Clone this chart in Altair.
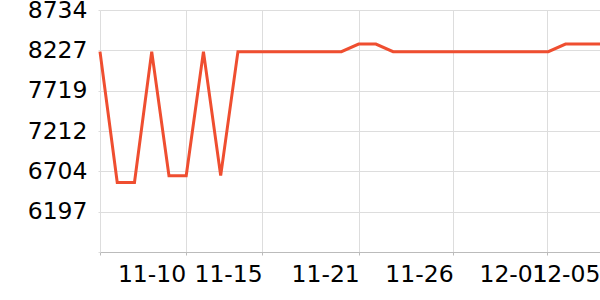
import altair as alt
import pandas as pd

# data
values = [8210, 6565, 6565, 8210, 6650, 6650, 8210, 6650, 8210, 8210,
          8210, 8210, 8210, 8210, 8210, 8306, 8306, 8210, 8210, 8210,
          8210, 8210, 8210, 8210, 8210, 8210, 8210, 8306, 8306, 8306]
idx = list(range(len(values)))

x_tick_pos = [0, 4.97, 9.41, 15.04, 20.48, 25.94, 29]
x_tick_labels = ["", "11-10", "11-15", "11-21", "11-26", "12-01", "12-05"]

y_min, y_max = 5689, 8734
y_ticks = [5689, 6196.5, 6704, 7211.5, 7719, 8226.5, 8734]

df = pd.DataFrame({"i": idx, "v": values})

expr = "''"
for p, l in reversed(list(zip(x_tick_pos, x_tick_labels))):
    expr = f"(abs(datum.value - {p}) < 0.001 ? '{l}' : {expr})"

chart = alt.Chart(df).mark_line(color="#EF4E30", strokeWidth=3).encode(
    x=alt.X("i:Q", scale=alt.Scale(domain=[0, 29], nice=False, zero=False),
            axis=alt.Axis(values=x_tick_pos, labelExpr=expr, title=None,
                          labelAlign="right", labelFontSize=23.5, labelFont="DejaVu Sans",
                          labelColor="#000", tickSize=3, tickColor="#bbb",
                          domainColor="#bbb", gridColor="#ddd", grid=True,
                          labelPadding=7, labelOverlap=False, labelFlush=False,
                          labelBound=False)),
    y=alt.Y("v:Q", scale=alt.Scale(domain=[y_min, y_max], nice=False, zero=False),
            axis=alt.Axis(values=y_ticks, labelExpr="datum.value < 5700 ? '' : format(datum.value, 'd')",
                          title=None, labelFontSize=23.5, labelFont="DejaVu Sans",
                          labelColor="#000", tickSize=2, tickColor="#ddd",
                          domain=False, gridColor="#ddd", labelPadding=11,
                          labelOverlap=False, labelFlush=False, labelBound=False)),
).properties(
    width=500, height=242,
    autosize=alt.AutoSizeParams(type="none"),
    padding={"left": 100, "top": 10, "right": 0, "bottom": 48},
).configure_view(stroke=None)

chart.save("out.html", embed_options={"renderer": "svg", "actions": False})
